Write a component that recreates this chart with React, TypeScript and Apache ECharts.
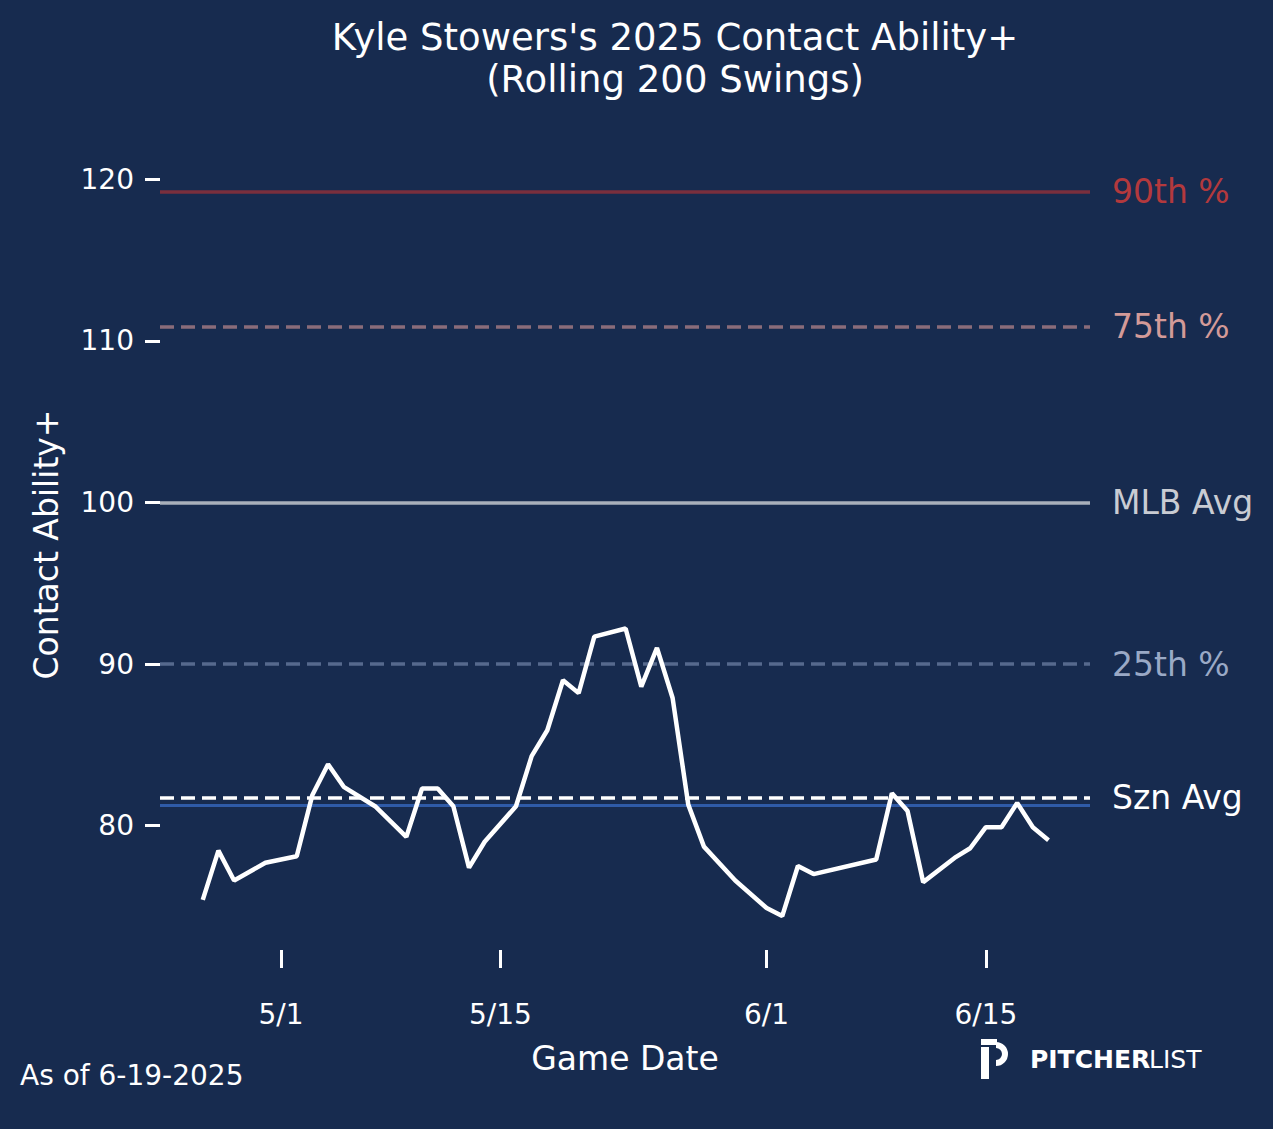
import React, { useEffect, useRef } from "react";
import * as echarts from "echarts";

const dates = ["2025-04-26","2025-04-27","2025-04-28","2025-04-30","2025-05-02","2025-05-03","2025-05-04","2025-05-05","2025-05-07","2025-05-09","2025-05-10","2025-05-11","2025-05-12","2025-05-13","2025-05-14","2025-05-16","2025-05-17","2025-05-18","2025-05-19","2025-05-20","2025-05-21","2025-05-23","2025-05-24","2025-05-25","2025-05-26","2025-05-27","2025-05-28","2025-05-30","2025-06-01","2025-06-02","2025-06-03","2025-06-04","2025-06-08","2025-06-09","2025-06-10","2025-06-11","2025-06-13","2025-06-14","2025-06-15","2025-06-16","2025-06-17","2025-06-18","2025-06-19"];
const values = [75.4,78.45,76.6,77.7,78.1,81.9,83.8,82.4,81.2,79.3,82.3,82.3,81.2,77.4,79.0,81.2,84.3,85.9,89.0,88.2,91.7,92.2,88.6,91.0,87.9,81.3,78.7,76.6,74.9,74.4,77.5,77.0,77.9,82.0,80.9,76.5,78.0,78.6,79.9,79.9,81.4,79.9,79.1];
const yTicks = [80, 90, 100, 110, 120];
const xTickDates = ["2025-05-01", "2025-05-15", "2025-06-01", "2025-06-15"];
const xTickLabels = ["5/1", "5/15", "6/1", "6/15"];
const refNames = ["90th %", "75th %", "MLB Avg", "25th %", "Szn Avg"];
const refValues = [119.25, 110.9, 100, 90, 81.73];
const seasonBlue = 81.24;

const FONT = "DejaVu Sans";
// day number relative to 2025-05-01
const day = (d: string) => (new Date(d + "T00:00:00Z").getTime() - Date.UTC(2025, 4, 1)) / 86400000;

export default function App() {
  const ref = useRef<HTMLDivElement>(null);
  useEffect(() => {
    const chart = echarts.init(ref.current!, null, { renderer: "svg" });
    const refStyles = [
      { line: "#7a2f3d", type: "solid", label: "#b3393d" },
      { line: "#8a6c7a", type: "dashed", label: "#d39a98" },
      { line: "#a9b0bb", type: "solid", label: "#c9ccd3" },
      { line: "#56698d", type: "dashed", label: "#9aa9c6" },
      { line: "#ffffff", type: "dashed", label: "#ffffff" },
    ];
    const xTickVals = xTickDates.map(day);
    chart.setOption({
      animation: false,
      backgroundColor: "#172b4f",
      textStyle: { fontFamily: FONT },
      title: {
        text: "Kyle Stowers's 2025 Contact Ability+\n(Rolling 200 Swings)",
        left: 670, top: 11, textAlign: "center",
        textStyle: { color: "#fff", fontSize: 37, fontWeight: "normal", lineHeight: 42, fontFamily: FONT },
      },
      grid: { left: 160, right: 183, top: 139, bottom: 179 },
      xAxis: {
        type: "value",
        min: -7.73,
        max: 51.65,
        axisLine: { show: false, onZero: false },
        splitLine: { show: false },
        axisTick: { show: true, customValues: xTickVals, length: 18, lineStyle: { color: "#fff", width: 3 } },
        axisLabel: {
          customValues: xTickVals, color: "#fff", fontSize: 28, margin: 50,
          formatter: (v: number) => xTickLabels[xTickVals.indexOf(v)] ?? "",
        },
        name: "Game Date", nameLocation: "middle", nameGap: 92,
        nameTextStyle: { color: "#fff", fontSize: 33 },
      },
      yAxis: {
        type: "value", min: 72.3, max: 122.5,
        axisLine: { show: false, onZero: false },
        splitLine: { show: false },
        axisTick: { show: true, customValues: yTicks, length: 15, lineStyle: { color: "#fff", width: 3 } },
        axisLabel: { customValues: yTicks, color: "#fff", fontSize: 28, margin: 26 },
        name: "Contact Ability+", nameLocation: "middle", nameGap: 97,
        nameTextStyle: { color: "#fff", fontSize: 33 },
      },
      series: [
        {
          type: "line", symbol: "none", z: 5,
          data: dates.map((d, i) => [day(d), values[i]]),
          lineStyle: { color: "#fff", width: 4.5 },
          markLine: {
            silent: true, symbol: "none",
            data: [
              { yAxis: seasonBlue, lineStyle: { color: "#2f5ba8", type: "solid", width: 3 }, label: { show: false } },
              ...refNames.map((n, i) => ({
                yAxis: refValues[i],
                lineStyle: { color: refStyles[i].line, type: refStyles[i].type, width: 3.5 },
                label: { show: true, position: "end", distance: 22, formatter: n, color: refStyles[i].label, fontSize: 33, fontFamily: FONT },
              })),
            ],
          },
        },
      ],
      graphic: [
        { type: "text", left: 20, top: 1061, style: { text: "As of 6-19-2025", fill: "#fff", fontSize: 28, fontFamily: FONT } },
        { type: "rect", shape: { x: 981, y: 1047, width: 8, height: 32 }, style: { fill: "#fff" } },
        { type: "arc", shape: { cx: 996, cy: 1054, r: 9, startAngle: -Math.PI / 2, endAngle: Math.PI / 2 }, style: { stroke: "#fff", lineWidth: 6, fill: "none" } },
        { type: "rect", shape: { x: 981, y: 1039, width: 16, height: 6 }, style: { fill: "#fff" } },
        { type: "text", x: 1030, y: 1047, style: { text: "PITCHER", fill: "#fff", fontSize: 25, fontWeight: "bold", fontFamily: FONT } },
        { type: "text", x: 1149, y: 1047, style: { text: "LIST", fill: "#fff", fontSize: 25, fontWeight: "normal", fontFamily: FONT } },
      ],
    });
    return () => chart.dispose();
  }, []);
  return <div ref={ref} style={{ position: "fixed", left: 0, top: 0, width: 1273, height: 1129 }} />;
}
